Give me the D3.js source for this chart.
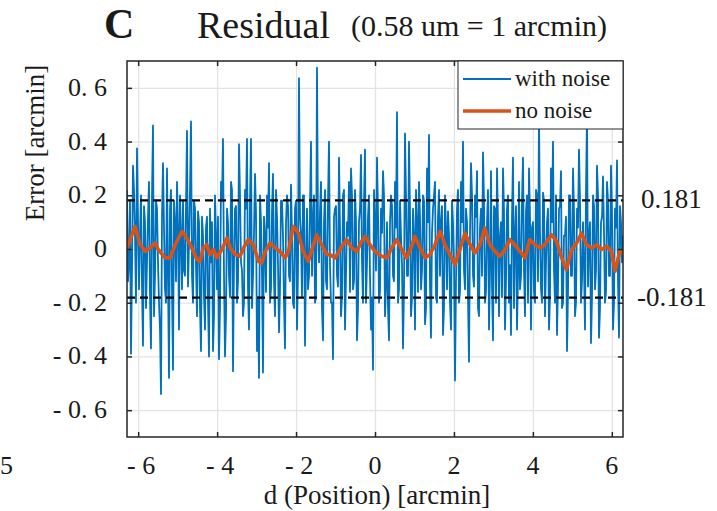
<!DOCTYPE html>
<html>
<head>
<meta charset="utf-8">
<script src="https://cdn.jsdelivr.net/npm/d3@7"></script>
<style>
  body { margin: 0; background: #fff; }
  svg { display: block; }
  text { font-family: "Liberation Serif", "Times New Roman", serif; fill: #1a1a1a; }
</style>
</head>
<body>
<div id="chart"></div>
<script>
// tick values and labels
var xTicks = [-6, -4, -2, 0, 2, 4, 6];
var xTickLabels = ["- 6", "- 4", "- 2", "0", "2", "4", "6"];
var yTicks = [-0.6, -0.4, -0.2, 0, 0.2, 0.4, 0.6];
var yTickLabels = ["- 0. 6", "- 0. 4", "- 0. 2", "0", "0. 2", "0. 4", "0. 6"];
var limitLines = [0.181, -0.181];
var limitLabels = ["0.181", "-0.181"];

// "with noise" residual, sampled evenly over [-2pi, 2pi]
// withNoise = even samples, withNoiseMid = the samples in between
var withNoise = [
  0.22, -0.05, -0.39, 0.31, 0.05, 0.375, -0.15, 0.20, -0.36, 0.10,
  -0.05, 0.25, -0.37, 0.46, -0.10, 0.15, -0.20, -0.54, 0.32, -0.15,
  0.30, -0.48, 0.22, -0.45, 0.10, 0.25, -0.30, 0.05, 0.18, -0.10,
  0.44, 0.02, 0.475, -0.20, 0.15, -0.25, 0.10, -0.38, 0.05, -0.30,
  0.12, -0.40, -0.05, -0.38, 0.20, -0.15, -0.41, 0.25, 0.41, -0.40,
  0.15,
  -0.10, 0.25, -0.455, 0.15, -0.20, 0.39, -0.05, -0.25, 0.22, 0.41,
  -0.30, 0.41, -0.10, 0.28, -0.38, -0.48, 0.10, -0.46, 0.05, 0.20,
  0.32, -0.15, 0.28, -0.25, 0.12, -0.31, 0.18, 0.05, -0.37, 0.20,
  -0.10, 0.24, -0.20, 0.15, -0.30, 0.636, 0.05, 0.20, -0.36, 0.15,
  -0.10, 0.40, 0.10, -0.20, 0.675, -0.05, 0.25, -0.34, 0.22, -0.15,
  0.40, -0.20, -0.41, 0.15, -0.10, 0.34, -0.25, 0.20, -0.30, 0.10,
  0.25, 0.30, -0.15, 0.22, -0.34, 0.10, 0.35, -0.20, 0.37, -0.05,
  0.20, -0.30, -0.45, 0.10, 0.34, -0.20, 0.15, 0.29, -0.25, 0.10,
  -0.34, 0.20, -0.10, 0.25, 0.51, -0.15, 0.05, -0.37, 0.43, -0.10,
  0.40, -0.25, 0.15, -0.30, 0.10, 0.25, -0.15, 0.20, -0.28, 0.30,
  0.425, -0.33, 0.15, 0.25, -0.20, 0.22, 0.10, -0.32, 0.20, -0.15,
  0.05, -0.30, 0.10, -0.49, 0.15, -0.20, 0.25, 0.40, -0.15, 0.10,
  -0.42, 0.32, -0.10, 0.20, 0.29, -0.25, 0.15, 0.36, -0.20, 0.10,
  -0.30, 0.29, -0.34, 0.15, 0.30, -0.25, 0.10, 0.30, -0.30, 0.15,
  -0.20, -0.32, 0.34, 0.05, -0.30, 0.25, -0.10, 0.34, -0.25, 0.20,
  0.30, -0.30, 0.10, -0.20, 0.20, 0.50, -0.15, 0.21, -0.25, 0.10,
  -0.30, 0.30, 0.40, -0.20, -0.32, 0.15, 0.29, -0.20, 0.05, -0.38,
  0.20, -0.10, 0.30, -0.25, 0.15, 0.37, -0.20, 0.10, -0.30, 0.50,
  0.05, -0.35, 0.20, -0.15, 0.31, -0.33, 0.10, 0.27, -0.20, 0.25,
  -0.10, 0.31, -0.30, 0.15, 0.33, -0.33, 0.10, 0.05
];
var withNoiseMid = [
  -0.12, 0.18, -0.08, 0.22, -0.20, 0.10, 0.05, -0.14, 0.16, -0.22,
  0.12, -0.18, 0.20, -0.25, 0.18, -0.05, -0.30, 0.12, 0.08, -0.20,
  -0.10, 0.15, -0.15, 0.18, -0.12, 0.08, 0.20, -0.15, -0.08, 0.16,
  -0.14, 0.22, -0.10, 0.18, -0.06, 0.14, -0.22, 0.12, -0.18, 0.08,
  -0.20, 0.15, 0.10, -0.25, 0.05, 0.12, -0.22, 0.18, -0.10, -0.25,
  0.10, -0.18, 0.22, -0.05, 0.16, -0.12, 0.20, -0.08, -0.20, 0.15,
  -0.15, 0.18, -0.22, 0.06, 0.14, -0.18, 0.20, -0.10, 0.12, -0.16,
  0.08, -0.20, 0.14, -0.12, 0.22, -0.06, -0.15, 0.18, -0.20, 0.10,
  0.16, -0.12, 0.05, -0.22, 0.18, -0.08, 0.12, -0.18, 0.20, -0.05,
  -0.15, 0.16, -0.10, 0.20, -0.18, 0.08, 0.14, -0.22, 0.10, -0.12,
  0.18, -0.06, -0.20, 0.12, 0.16, -0.14, 0.08, -0.18, 0.22, -0.10,
  0.05, -0.16, 0.20, -0.12, 0.10, -0.22, 0.15, -0.05, 0.18, -0.20,
  0.12, -0.10, -0.18, 0.22, -0.08, 0.14, -0.16, 0.06, 0.20, -0.14,
  -0.22, 0.10, 0.16, -0.12, 0.08, -0.20, 0.18, -0.06, -0.15, 0.20,
  -0.10, 0.14, -0.18, 0.05, 0.22, -0.16, 0.12, -0.08, 0.18, -0.22,
  0.10, -0.14, 0.06, 0.20, -0.18, 0.12, -0.10, 0.16, -0.22, 0.08,
  0.14, -0.20, 0.18, -0.05, -0.12, 0.22, -0.16, 0.10, -0.08, 0.15,
  -0.18, 0.06, 0.20, -0.14, 0.12, -0.22, 0.08, -0.10, 0.18, -0.16,
  0.22, -0.08, -0.14, 0.16, -0.20, 0.10, 0.05, -0.18, 0.14, -0.12,
  0.20, -0.06, 0.12, -0.22, 0.16, -0.10, -0.15, 0.18, -0.08, 0.14,
  -0.20, 0.12, 0.08, -0.16, 0.22, -0.12, 0.06, -0.20, 0.18, -0.05,
  0.15, -0.18, 0.10, -0.08, 0.20, -0.14, 0.16, -0.22, 0.05, 0.12,
  -0.16, 0.20, -0.10, 0.14, -0.20, 0.08, 0.18, -0.12, -0.06, 0.22,
  -0.14, 0.10, -0.18, 0.16, -0.08, 0.20, -0.22, 0.12, 0.06, -0.16,
  0.18, -0.10, 0.14, -0.20, 0.08, -0.12, 0.16, -0.05
];

// "no noise" residual
var noNoiseX = [
  -6.28, -6.16, -6.08, -5.95, -5.82, -5.70, -5.57, -5.49, -5.32, -5.19,
  -5.06, -4.89, -4.77, -4.64, -4.51, -4.43, -4.35, -4.26, -4.18, -4.09,
  -4.01, -3.88, -3.75, -3.67, -3.54, -3.42, -3.33, -3.21, -3.08, -2.95,
  -2.87, -2.78, -2.66, -2.53, -2.41, -2.28, -2.19, -2.07, -1.94, -1.82,
  -1.69, -1.56, -1.48, -1.35, -1.22, -1.14, -1.01, -0.84, -0.72, -0.59,
  -0.46, -0.34, -0.25, -0.13, 0.00, 0.17, 0.30, 0.42, 0.55, 0.68,
  0.80, 0.93, 1.01, 1.14, 1.27, 1.39, 1.52, 1.65, 1.77, 1.90,
  2.03, 2.15, 2.28, 2.41, 2.53, 2.66, 2.78, 2.91, 3.04, 3.16,
  3.29, 3.42, 3.54, 3.67, 3.80, 3.92, 4.05, 4.18, 4.30, 4.47,
  4.60, 4.73, 4.85, 4.98, 5.11, 5.23, 5.36, 5.49, 5.62, 5.74,
  5.87, 5.99, 6.08, 6.20, 6.28
];
var noNoiseY = [
  0.004, 0.053, 0.084, 0.016, -0.009, 0.004, 0.022, -0.002, -0.033, -0.033,
  0.016, 0.066, 0.041, 0.004, -0.040, -0.046, 0.004, 0.016, -0.021, -0.002,
  -0.033, -0.002, 0.041, 0.004, -0.021, -0.027, 0.004, 0.035, 0.016, -0.046,
  -0.052, -0.009, 0.022, 0.004, -0.009, -0.033, -0.009, 0.084, 0.059, -0.009,
  -0.046, 0.016, 0.053, 0.016, -0.021, -0.021, -0.033, 0.010, 0.035, 0.004,
  -0.009, 0.029, 0.047, 0.016, -0.009, -0.027, -0.033, 0.004, 0.035, -0.002,
  -0.033, 0.010, 0.047, 0.004, -0.033, -0.021, 0.016, 0.066, 0.016, -0.021,
  -0.058, -0.002, 0.059, 0.016, -0.015, 0.016, 0.078, 0.016, -0.009, -0.027,
  -0.002, 0.035, 0.016, -0.009, -0.033, 0.035, 0.016, 0.004, 0.016, 0.053,
  0.029, -0.033, -0.077, -0.002, 0.022, 0.059, 0.016, 0.004, 0.016, -0.002,
  0.010, -0.009, -0.083, -0.009, -0.015
];

var W = 717, H = 511;
var plot = { left: 127, right: 623, top: 61, bottom: 437 };
var blue = "#0072BD", orange = "#D95319", axisColor = "#262626";

var svg = d3.select("#chart").append("svg")
    .attr("width", W)
    .attr("height", H);

var x = d3.scaleLinear().domain([-2 * Math.PI, 2 * Math.PI]).range([plot.left, plot.right]);
var y = d3.scaleLinear().domain([-0.7, 0.7]).range([plot.bottom, plot.top]);

svg.append("defs").append("clipPath").attr("id", "clip")
    .append("rect")
    .attr("x", plot.left).attr("y", plot.top)
    .attr("width", plot.right - plot.left).attr("height", plot.bottom - plot.top);

// grid
svg.append("g")
    .attr("transform", "translate(0," + plot.bottom + ")")
    .call(d3.axisBottom(x).tickValues(xTicks).tickSize(-(plot.bottom - plot.top)).tickFormat(""))
    .call(function (g) { g.select(".domain").remove(); })
    .selectAll("line").attr("stroke", "#e3e3e3").attr("stroke-width", 1.3);
svg.append("g")
    .attr("transform", "translate(" + plot.left + ",0)")
    .call(d3.axisLeft(y).tickValues(yTicks).tickSize(-(plot.right - plot.left)).tickFormat(""))
    .call(function (g) { g.select(".domain").remove(); })
    .selectAll("line").attr("stroke", "#e3e3e3").attr("stroke-width", 1.3);

// series
var noisyVals = [];
withNoise.forEach(function (v, i) {
  noisyVals.push(v);
  if (i < withNoiseMid.length) noisyVals.push(withNoiseMid[i]);
});
var step = (4 * Math.PI) / (noisyVals.length - 1);
var noisyPts = noisyVals.map(function (v, i) { return [-2 * Math.PI + i * step, v]; });
var cleanPts = noNoiseX.map(function (v, i) { return [v, noNoiseY[i]]; });

var line = d3.line()
    .x(function (d) { return x(d[0]); })
    .y(function (d) { return y(d[1]); });

var lines = svg.append("g").attr("clip-path", "url(#clip)");
lines.append("path")
    .datum(noisyPts)
    .attr("fill", "none")
    .attr("stroke", blue)
    .attr("stroke-width", 1.8)
    .attr("stroke-linejoin", "round")
    .attr("d", line);
lines.append("path")
    .datum(cleanPts)
    .attr("fill", "none")
    .attr("stroke", orange)
    .attr("stroke-width", 3.6)
    .attr("stroke-linejoin", "round")
    .attr("d", line);

// +/- limit lines
lines.selectAll(".limit")
    .data(limitLines)
    .enter().append("line")
    .attr("x1", plot.left).attr("x2", plot.right)
    .attr("y1", function (d) { return y(d); })
    .attr("y2", function (d) { return y(d); })
    .attr("stroke", "#000")
    .attr("stroke-width", 2.4)
    .attr("stroke-dasharray", "8,5");

// box + inward ticks
svg.append("rect")
    .attr("x", plot.left).attr("y", plot.top)
    .attr("width", plot.right - plot.left).attr("height", plot.bottom - plot.top)
    .attr("fill", "none").attr("stroke", axisColor).attr("stroke-width", 1.5);

svg.append("g")
    .attr("transform", "translate(0," + plot.bottom + ")")
    .call(d3.axisTop(x).tickValues(xTicks).tickSize(5).tickFormat(""))
    .call(function (g) { g.select(".domain").remove(); })
    .selectAll("line").attr("stroke", axisColor).attr("stroke-width", 1.5);
svg.append("g")
    .attr("transform", "translate(0," + plot.top + ")")
    .call(d3.axisBottom(x).tickValues(xTicks).tickSize(5).tickFormat(""))
    .call(function (g) { g.select(".domain").remove(); })
    .selectAll("line").attr("stroke", axisColor).attr("stroke-width", 1.5);
svg.append("g")
    .attr("transform", "translate(" + plot.left + ",0)")
    .call(d3.axisRight(y).tickValues(yTicks).tickSize(5).tickFormat(""))
    .call(function (g) { g.select(".domain").remove(); })
    .selectAll("line").attr("stroke", axisColor).attr("stroke-width", 1.5);
svg.append("g")
    .attr("transform", "translate(" + plot.right + ",0)")
    .call(d3.axisLeft(y).tickValues(yTicks).tickSize(5).tickFormat(""))
    .call(function (g) { g.select(".domain").remove(); })
    .selectAll("line").attr("stroke", axisColor).attr("stroke-width", 1.5);

// tick labels
svg.selectAll(".xlab")
    .data(xTicks)
    .enter().append("text")
    .attr("x", function (d) { return x(d) + (d < 0 ? 3 : 0); })
    .attr("y", 474)
    .attr("text-anchor", "middle")
    .style("font-size", "26px")
    .text(function (d, i) { return xTickLabels[i]; });

svg.selectAll(".ylab")
    .data(yTicks)
    .enter().append("text")
    .attr("x", 107)
    .attr("y", function (d) { return y(d) + 8; })
    .attr("text-anchor", "end")
    .style("font-size", "26px")
    .text(function (d, i) { return yTickLabels[i]; });

svg.selectAll(".limlab")
    .data(limitLines)
    .enter().append("text")
    .attr("x", function (d) { return d > 0 ? 641 : 637; })
    .attr("y", function (d) { return y(d) + 8; })
    .style("font-size", "27px")
    .text(function (d, i) { return limitLabels[i]; });

// axis titles
svg.append("text")
    .attr("x", 377).attr("y", 504)
    .attr("text-anchor", "middle")
    .style("font-size", "27px")
    .text("d (Position) [arcmin]");

svg.append("text")
    .attr("transform", "translate(44,143) rotate(-90)")
    .attr("text-anchor", "middle")
    .style("font-size", "27px")
    .text("Error [arcmin]");

// title
svg.append("text")
    .attr("x", 104).attr("y", 38)
    .style("font-size", "42px").style("font-weight", "bold")
    .text("C");
svg.append("text")
    .attr("x", 197).attr("y", 38)
    .style("font-size", "38px")
    .text("Residual");
svg.append("text")
    .attr("x", 351).attr("y", 36)
    .style("font-size", "30px")
    .text("(0.58 um = 1 arcmin)");

// bit of the neighbouring panel's tick label
svg.append("text")
    .attr("x", 0).attr("y", 474)
    .style("font-size", "26px")
    .text("5");

// legend
var legend = svg.append("g");
legend.append("rect")
    .attr("x", 458).attr("y", plot.top)
    .attr("width", plot.right - 458).attr("height", 68)
    .attr("fill", "#fff").attr("stroke", axisColor).attr("stroke-width", 1);
var legendItems = [
  { name: "with noise", color: blue, width: 1.8 },
  { name: "no noise", color: orange, width: 3.6 }
];
legendItems.forEach(function (d, i) {
  var ly = 79 + i * 32;
  legend.append("line")
      .attr("x1", 463).attr("x2", 511)
      .attr("y1", ly).attr("y2", ly)
      .attr("stroke", d.color).attr("stroke-width", d.width);
  legend.append("text")
      .attr("x", 515).attr("y", ly + 7)
      .style("font-size", "23px")
      .text(d.name);
});
</script>
</body>
</html>
